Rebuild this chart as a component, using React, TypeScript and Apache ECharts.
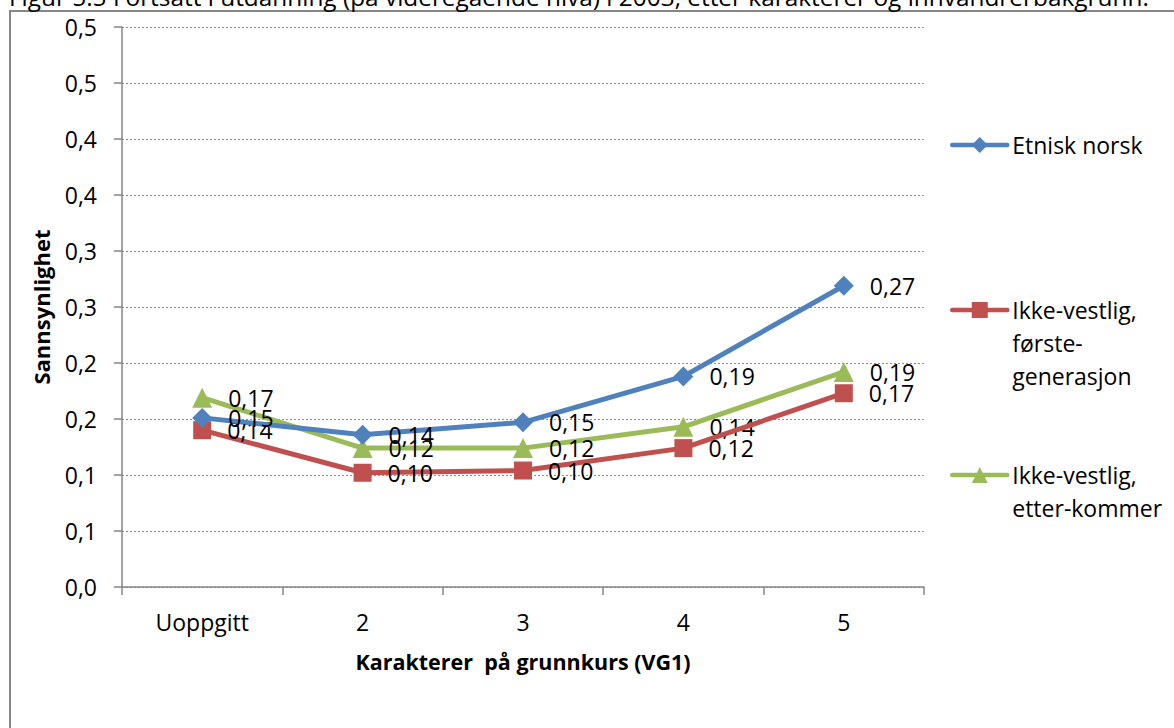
import React, { useEffect, useRef } from 'react';
import * as echarts from 'echarts';

const categories = ['Uoppgitt', '2', '3', '4', '5'];
const etniskNorsk = [0.151, 0.136, 0.147, 0.188, 0.269];
const forsteGenerasjon = [0.14, 0.102, 0.104, 0.124, 0.173];
const etterkommer = [0.169, 0.124, 0.124, 0.143, 0.192];
const yTickLabels = ['0,0', '0,1', '0,1', '0,2', '0,2', '0,3', '0,3', '0,4', '0,4', '0,5', '0,5'];
const seriesNames = ['Etnisk norsk', 'Ikke-vestlig, første-generasjon', 'Ikke-vestlig, etter-kommer'];
const legendLines = [['Etnisk norsk'], ['Ikke-vestlig,', 'første-', 'generasjon'], ['Ikke-vestlig,', 'etter-kommer']];
const titleText = 'Figur 5.5 Fortsatt i utdanning (på videregående nivå) i 2003, etter karakterer og innvandrerbakgrunn.';
const xAxisName = 'Karakterer  på grunnkurs (VG1)';
const yAxisName = 'Sannsynlighet';

const FONT = '"Open Sans", "Noto Sans", sans-serif';
const colors = ['#4F81BD', '#C0504D', '#9BBB59'];
const symbols = ['diamond', 'rect', 'triangle'];
const symbolSizes = [20, 18, 20];
const legendCenters = [145, 310, 475];
const LINE_H = 33;

export default function App() {
  const ref = useRef<HTMLDivElement>(null);
  useEffect(() => {
    if (!ref.current) return;
    const chart = echarts.init(ref.current, undefined, { renderer: 'svg' });
    const dataSets = [etniskNorsk, forsteGenerasjon, etterkommer];

    const legends = legendLines.map((lines, i) => {
      const below = lines.length - 1;
      const padded = Array(below).fill('').concat(lines);
      const total = padded.length * LINE_H;
      return {
        data: [seriesNames[i]],
        left: 950,
        top: legendCenters[i] - total / 2,
        padding: 0,
        orient: 'vertical',
        itemWidth: 55,
        itemHeight: 20,
        selectedMode: false,
        formatter: () => padded.join('\n'),
        textStyle: { fontFamily: FONT, fontSize: 23, color: '#000', lineHeight: LINE_H },
        lineStyle: { width: 4.5, cap: 'round' },
      };
    });

    chart.setOption({
      animation: false,
      backgroundColor: '#fff',
      textStyle: { fontFamily: FONT },
      graphic: [
        {
          type: 'rect',
          shape: { x: 10, y: 11, width: 1300, height: 900 },
          style: { fill: 'none', stroke: '#868686', lineWidth: 2 },
          silent: true,
          z: -10,
        },
        {
          type: 'text',
          x: 9,
          y: 8,
          style: {
            text: titleText,
            fontFamily: FONT,
            fontSize: 24.4,
            fill: '#000',
            verticalAlign: 'bottom',
          },
        },
      ],
      legend: legends,
      grid: { left: 122, right: 250, top: 27, bottom: 141, containLabel: false },
      xAxis: {
        type: 'category',
        data: categories,
        boundaryGap: true,
        name: xAxisName,
        nameLocation: 'middle',
        nameGap: 63,
        nameTextStyle: { fontFamily: FONT, fontSize: 21.5, fontWeight: 'bold', color: '#000' },
        axisLine: { lineStyle: { color: '#868686', width: 1.5 } },
        axisTick: { show: true, length: 8, lineStyle: { color: '#868686', width: 1.5 } },
        axisLabel: { fontFamily: FONT, fontSize: 23, color: '#000', margin: 23 },
        splitLine: { show: false },
      },
      yAxis: {
        type: 'value',
        min: 0,
        max: 0.5,
        interval: 0.05,
        name: yAxisName,
        nameLocation: 'middle',
        nameGap: 70,
        nameRotate: 90,
        nameTextStyle: { fontFamily: FONT, fontSize: 22, fontWeight: 'bold', color: '#000' },
        axisLine: { show: true, lineStyle: { color: '#868686', width: 1.5 } },
        axisTick: { show: true, length: 8, lineStyle: { color: '#868686', width: 1.5 } },
        axisLabel: {
          fontFamily: FONT,
          fontSize: 23,
          color: '#000',
          margin: 25,
          formatter: (v: number) => yTickLabels[Math.round(v / 0.05)] ?? '',
        },
        splitLine: { show: true, lineStyle: { color: '#8c8c8c', type: [2, 2], width: 1 } },
      },
      series: dataSets.map((d, i) => ({
        name: seriesNames[i],
        type: 'line',
        data: d,
        symbol: symbols[i],
        symbolSize: symbolSizes[i],
        color: colors[i],
        lineStyle: { width: 5, color: colors[i], cap: 'round' },
        itemStyle: { color: colors[i] },
        label: {
          show: true,
          position: 'right',
          distance: 16,
          fontFamily: FONT,
          fontSize: 23,
          color: '#000',
          formatter: (p: any) => Number(p.value).toFixed(2).replace('.', ','),
        },
        z: 3 - i,
      })),
    });
    return () => chart.dispose();
  }, []);

  return (
    <div
      ref={ref}
      style={{ position: 'absolute', left: 0, top: 0, width: 1174, height: 728, background: '#fff' }}
    />
  );
}
